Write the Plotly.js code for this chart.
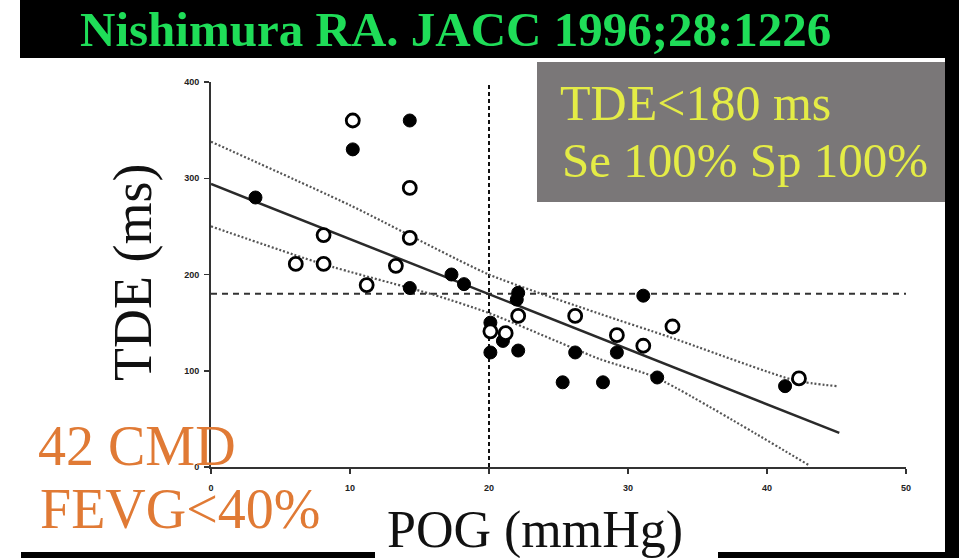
<!DOCTYPE html>
<html><head><meta charset="utf-8">
<script src="https://cdn.plot.ly/plotly-3.0.1.min.js"></script>
<style>html,body{margin:0;padding:0;background:#fff;}#chart{width:959px;height:558px;}</style>
</head><body><div id="chart"></div>
<script>
// Data
const filledX = [3.2, 10.2, 14.3, 14.3, 17.3, 18.2, 22.1, 22.0, 20.1, 21.0, 20.1, 22.1, 26.2, 29.2, 31.1, 25.3, 28.2, 32.1, 41.3];
const filledY = [280, 330, 360, 186, 200, 190, 181, 174, 150, 131, 119, 121, 119, 119, 178, 88, 88, 93, 84];
const openX = [6.1, 8.1, 8.1, 10.2, 11.2, 13.3, 14.3, 14.3, 20.1, 21.2, 22.1, 26.2, 29.2, 31.1, 33.2, 42.3];
const openY = [211, 211, 241, 360, 189, 209, 290, 238, 141, 139, 157, 157, 137, 126, 146, 92];
const regX = [0, 45.2];
const regY = [294, 35.4];
const upperX = [0, 10, 20, 28, 33, 42, 45];
const upperY = [338, 272, 200, 159, 135, 90, 84];
const lowerX = [0, 8, 16, 20, 28, 32, 43];
const lowerY = [250, 211, 179, 160, 112, 93, 2];
const cutVX = [20, 20];
const cutVY = [0, 404];
const cutHX = [0, 50];
const cutHY = [180, 180];
const xTicks = [0, 10, 20, 30, 40, 50];
const xTickText = ['0', '10', '20', '30', '40', '50'];
const yTicks = [0, 100, 200, 300, 400];
const yTickText = ['0', '100', '200', '300', '400'];

const W = 959, H = 558, L = 211, R = 53, T = 82, B = 91;
const PW = W - L - R, PH = H - T - B;
const X = px => (px - L) / PW;
const Y = py => (H - B - py) / PH;

const traces = [
  {x: cutVX, y: cutVY, mode: 'lines', line: {color: '#111', width: 2, dash: '4px,3px'}, hoverinfo: 'skip'},
  {x: cutHX, y: cutHY, mode: 'lines', line: {color: '#333', width: 2, dash: '6px,5px'}, hoverinfo: 'skip'},
  {x: upperX, y: upperY, mode: 'lines', line: {color: '#555', width: 2.2, dash: '2px,2px', shape: 'spline', smoothing: 0.6}, hoverinfo: 'skip'},
  {x: lowerX, y: lowerY, mode: 'lines', line: {color: '#555', width: 2.2, dash: '2px,2px', shape: 'spline', smoothing: 0.6}, hoverinfo: 'skip'},
  {x: regX, y: regY, mode: 'lines', line: {color: '#2a2a2a', width: 2.5}, hoverinfo: 'skip'},
  {x: filledX, y: filledY, mode: 'markers', marker: {size: 13, color: '#000', line: {color: '#000', width: 1}}, cliponaxis: false},
  {x: openX, y: openY, mode: 'markers', marker: {size: 13, color: '#fff', line: {color: '#000', width: 2.8}}, cliponaxis: false}
];

function rect(x0, y0, x1, y1, color) {
  return {type: 'rect', xref: 'paper', yref: 'paper', x0: X(x0), x1: X(x1), y0: Y(y0), y1: Y(y1),
          fillcolor: color, line: {width: 0}, layer: 'below'};
}

const serif = 'Liberation Serif, Times New Roman, serif';
const tickFont = {family: 'Liberation Sans, Arial', size: 9, color: '#222', weight: 'bold'};
const layout = {
  width: W, height: H,
  margin: {l: L, r: R, t: T, b: B, pad: 0},
  paper_bgcolor: '#fff', plot_bgcolor: 'rgba(0,0,0,0)',
  showlegend: false,
  xaxis: {range: [0, 50], showgrid: false, zeroline: false, showline: true, linecolor: '#333', linewidth: 2,
          ticks: 'outside', ticklen: 5, tickwidth: 1.5, tickcolor: '#333', tickvals: xTicks, ticktext: xTickText,
          ticklabelstandoff: 6, tickfont: tickFont, fixedrange: true},
  yaxis: {range: [0, 400], showgrid: false, zeroline: false, showline: true, linecolor: '#333', linewidth: 2,
          ticks: 'outside', ticklen: 5, tickwidth: 1.5, tickcolor: '#333', tickvals: yTicks, ticktext: yTickText,
          ticklabelstandoff: 3, tickfont: tickFont, fixedrange: true},
  shapes: [
    rect(20, 0, 959, 58, '#000'),
    rect(945, 0, 959, 558, '#000'),
    rect(21, 552, 375, 558, '#000'),
    rect(718, 552, 959, 558, '#000'),
    rect(537, 62, 945, 202, '#7a7778')
  ],
  annotations: [
    {text: '<b>Nishimura RA. JACC 1996;28:1226</b>', x: X(455), y: Y(30), xref: 'paper', yref: 'paper',
     xanchor: 'center', yanchor: 'middle', showarrow: false, font: {family: serif, size: 49, color: '#1fdd58'}},
    {text: 'TDE&lt;180 ms', x: X(558), y: Y(103), xref: 'paper', yref: 'paper', xanchor: 'left', yanchor: 'middle',
     showarrow: false, font: {family: serif, size: 50, color: '#e4ec46'}},
    {text: 'Se 100% Sp 100%', x: X(560), y: Y(160), xref: 'paper', yref: 'paper', xanchor: 'left', yanchor: 'middle',
     showarrow: false, font: {family: serif, size: 49, color: '#e4ec46'}},
    {text: 'TDE (ms)', x: X(133), y: Y(273), xref: 'paper', yref: 'paper', xanchor: 'center', yanchor: 'middle',
     textangle: -90, showarrow: false, font: {family: serif, size: 54, color: '#111'}},
    {text: 'POG (mmHg)', x: X(535), y: Y(530), xref: 'paper', yref: 'paper', xanchor: 'center', yanchor: 'middle',
     showarrow: false, font: {family: serif, size: 52, color: '#111'}},
    {text: '42 CMD', x: X(36), y: Y(446), xref: 'paper', yref: 'paper', xanchor: 'left', yanchor: 'middle',
     showarrow: false, font: {family: serif, size: 56, color: '#e07a35'}},
    {text: 'FEVG&lt;40%', x: X(38), y: Y(509), xref: 'paper', yref: 'paper', xanchor: 'left', yanchor: 'middle',
     showarrow: false, font: {family: serif, size: 56, color: '#e07a35'}}
  ]
};

Plotly.newPlot('chart', traces, layout, {displayModeBar: false, staticPlot: true});
</script>
</body></html>
